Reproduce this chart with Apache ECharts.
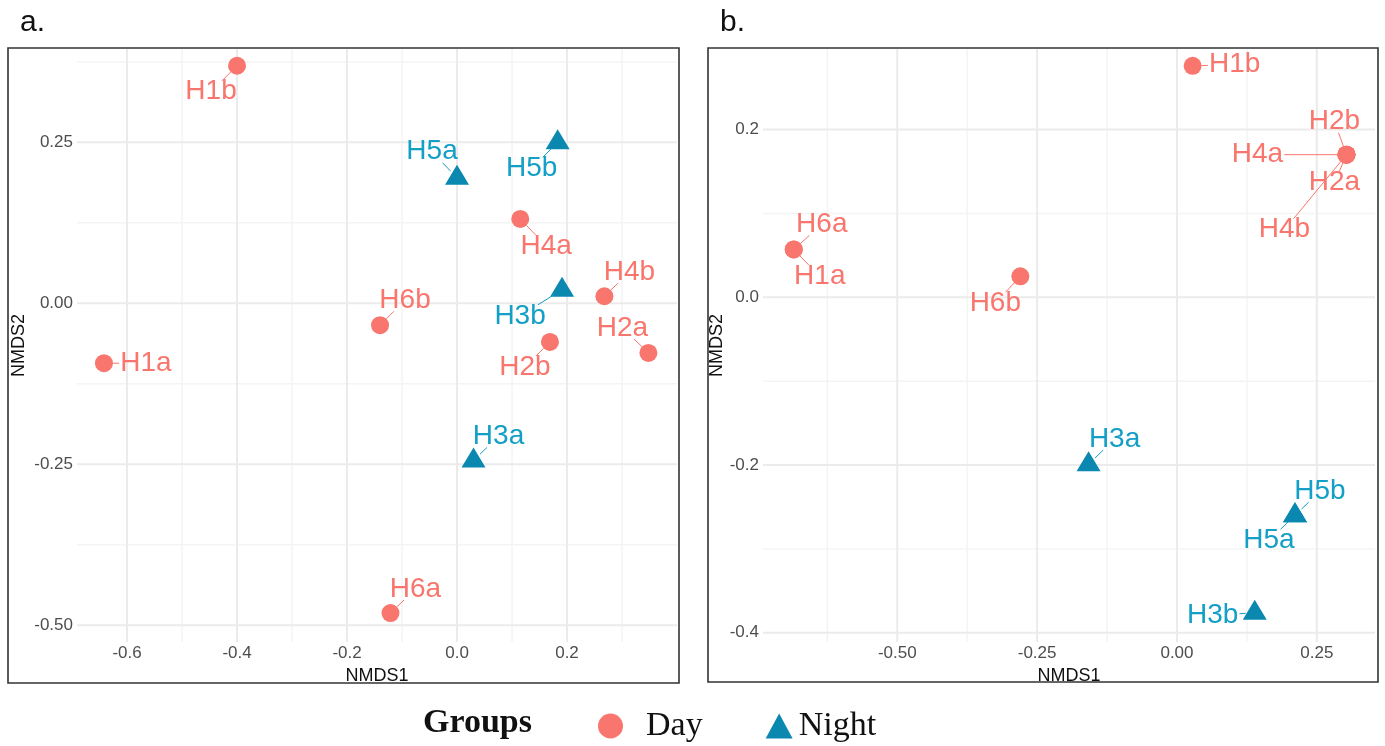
<!DOCTYPE html>
<html>
<head>
<meta charset="utf-8">
<script src="https://cdn.jsdelivr.net/npm/echarts@6/dist/echarts.min.js"></script>
<style>
    html, body { margin: 0; padding: 0; background: #fff; }
    #chart { width: 1385px; height: 746px; }
</style>
</head>
<body>
<div id="chart"></div>
<script>
// panel a. (NMDS scores)
var dayNamesA = ['H1a', 'H1b', 'H2a', 'H2b', 'H4a', 'H4b', 'H6a', 'H6b']
var dayXA = [-0.642, -0.400, 0.348, 0.169, 0.115, 0.268, -0.121, -0.140]
var dayYA = [-0.093, 0.369, -0.077, -0.060, 0.131, 0.011, -0.481, -0.034]
var nightNamesA = ['H3a', 'H3b', 'H5a', 'H5b']
var nightXA = [0.030, 0.191, 0.000, 0.183]
var nightYA = [-0.244, 0.021, 0.195, 0.250]

// panel b.
var dayNamesB = ['H1a', 'H1b', 'H2a', 'H2b', 'H4a', 'H4b', 'H6a', 'H6b']
var dayXB = [-0.685, 0.028, 0.303, 0.303, 0.303, 0.303, -0.685, -0.280]
var dayYB = [0.057, 0.276, 0.170, 0.170, 0.170, 0.170, 0.057, 0.025]
var nightNamesB = ['H3a', 'H3b', 'H5a', 'H5b']
var nightXB = [-0.158, 0.139, 0.211, 0.211]
var nightYB = [-0.199, -0.376, -0.260, -0.260]

// ticks
var xTicksA = [-0.6, -0.4, -0.2, 0.0, 0.2]
var xTickLabelsA = ['-0.6', '-0.4', '-0.2', '0.0', '0.2']
var yTicksA = [-0.5, -0.25, 0.0, 0.25]
var yTickLabelsA = ['-0.50', '-0.25', '0.00', '0.25']
var xMinorA = [-0.5, -0.3, -0.1, 0.1, 0.3]
var yMinorA = [-0.375, -0.125, 0.125, 0.375]

var xTicksB = [-0.5, -0.25, 0.0, 0.25]
var xTickLabelsB = ['-0.50', '-0.25', '0.00', '0.25']
var yTicksB = [-0.4, -0.2, 0.0, 0.2]
var yTickLabelsB = ['-0.4', '-0.2', '0.0', '0.2']
var xMinorB = [-0.625, -0.375, -0.125, 0.125]
var yMinorB = [-0.3, -0.1, 0.1]

// label placement (pixel offset from point, like ggrepel did it)
var offA = {
    H1b: [-26, 26], H5a: [-25, -26], H5b: [-26, 26], H4a: [26, 27], H4b: [25, -24], H3b: [-42, 26],
    H6b: [25, -25], H2a: [-26, -25], H2b: [-25, 25], H1a: [42, 0], H3a: [25, -24], H6a: [25, -24]
}
var offB = {
    H1b: [42, -1], H2b: [-12, -33], H4a: [-89, 0], H2a: [-12, 28], H4b: [-62, 75], H6a: [28, -25],
    H1a: [26, 27], H6b: [-25, 27], H3a: [26, -25], H5b: [25, -24], H5a: [-26, 25], H3b: [-42, 3]
}

var DAY = '#F8766D'
var NIGHT = '#0A88AF'
var NIGHT_TXT = '#139FC6'
var SANS = 'Liberation Sans'
var LABEL_FONT = 28

var ctx = document.createElement('canvas').getContext('2d')
ctx.font = LABEL_FONT + 'px "' + SANS + '"'

function zip(xs, ys) {
    return xs.map(function (x, i) { return [x, ys[i]] })
}

function tickFmt(ticks, labels) {
    return function (v) {
        for (var i = 0; i < ticks.length; i++) {
            if (Math.abs(ticks[i] - v) < 1e-6) return labels[i]
        }
        return ''
    }
}

function xAxisOf(gi, min, max, ticks, labels) {
    return {
        gridIndex: gi, type: 'value', min: min, max: max,
        axisLine: { show: false }, axisTick: { show: false }, splitLine: { show: false },
        axisLabel: { customValues: ticks, formatter: tickFmt(ticks, labels), color: '#4d4d4d', fontSize: 17, fontFamily: SANS, margin: 3 },
        name: 'NMDS1', nameLocation: 'middle', nameGap: 14,
        nameTextStyle: { color: '#111', fontSize: 18, fontFamily: SANS }
    }
}

function yAxisOf(gi, min, max, ticks, labels, gap) {
    return {
        gridIndex: gi, type: 'value', min: min, max: max,
        axisLine: { show: false }, axisTick: { show: false }, splitLine: { show: false },
        axisLabel: { customValues: ticks, formatter: tickFmt(ticks, labels), color: '#4d4d4d', fontSize: 17, fontFamily: SANS, margin: 4 },
        name: 'NMDS2', nameLocation: 'middle', nameGap: gap,
        nameTextStyle: { color: '#111', fontSize: 18, fontFamily: SANS }
    }
}

// background grid lines (major + minor), drawn under the points
function gridSeries(gi, xs, ys, xm, ym) {
    var d = []
    xm.forEach(function (v) { d.push([v, 0, 0]) })
    ym.forEach(function (v) { d.push([v, 1, 0]) })
    xs.forEach(function (v) { d.push([v, 0, 1]) })
    ys.forEach(function (v) { d.push([v, 1, 1]) })
    return {
        type: 'custom', xAxisIndex: gi, yAxisIndex: gi, data: d, z: 1, silent: true,
        renderItem: function (params, api) {
            var cs = params.coordSys
            var v = api.value(0), dir = api.value(1), major = api.value(2)
            var shape
            if (dir == 0) {
                var x = api.coord([v, 0])[0]
                shape = { x1: x, y1: cs.y, x2: x, y2: cs.y + cs.height }
            } else {
                var y = api.coord([0, v])[1]
                shape = { x1: cs.x, y1: y, x2: cs.x + cs.width, y2: y }
            }
            return {
                type: 'line', shape: shape,
                style: major ? { stroke: '#ebebeb', lineWidth: 2 } : { stroke: '#f4f4f4', lineWidth: 1.5 }
            }
        }
    }
}

function pointSeries(name, gi, pts, sym, color) {
    return {
        name: name, type: 'scatter', xAxisIndex: gi, yAxisIndex: gi, data: pts, z: 3,
        symbol: sym,
        symbolSize: sym == 'triangle' ? [24, 20] : 18,
        symbolOffset: sym == 'triangle' ? [0, -3] : [0, 0],
        itemStyle: { color: color, opacity: 1 },
        emphasis: { disabled: true }
    }
}

// text labels + short repel segments, placed through the axes
function labelSeries(gi, pts, names, offs, color) {
    return {
        type: 'custom', xAxisIndex: gi, yAxisIndex: gi, data: pts, z: 4, silent: true, clip: false,
        renderItem: function (params, api) {
            var nm = names[params.dataIndex]
            var p = api.coord([api.value(0), api.value(1)])
            var o = offs[nm]
            var lx = p[0] + o[0], ly = p[1] + o[1]
            var hw = ctx.measureText(nm).width / 2 + 1, hh = 11
            var children = [{
                type: 'text',
                style: { text: nm, x: lx, y: ly, align: 'center', verticalAlign: 'middle', fill: color, font: LABEL_FONT + 'px "' + SANS + '"' }
            }]
            var len = Math.sqrt(o[0] * o[0] + o[1] * o[1])
            var tb = Math.min(o[0] == 0 ? 1e9 : hw / Math.abs(o[0]), o[1] == 0 ? 1e9 : hh / Math.abs(o[1]))
            var endLen = len * (1 - tb)
            var r = 9
            if (endLen - r > 2) {
                var ux = o[0] / len, uy = o[1] / len
                children.push({
                    type: 'line',
                    shape: { x1: p[0] + ux * r, y1: p[1] + uy * r, x2: p[0] + ux * endLen, y2: p[1] + uy * endLen },
                    style: { stroke: color, lineWidth: 1 }
                })
            }
            return { type: 'group', children: children }
        }
    }
}

var chart = echarts.init(document.getElementById('chart'))

var option = {
    animation: false,
    backgroundColor: '#fff',
    grid: [
        { left: 77, top: 49, width: 600, height: 593 },
        { left: 763, top: 49, width: 612, height: 593 }
    ],
    xAxis: [
        xAxisOf(0, -0.691, 0.40, xTicksA, xTickLabelsA),
        xAxisOf(1, -0.740, 0.354, xTicksB, xTickLabelsB)
    ],
    yAxis: [
        yAxisOf(0, -0.526, 0.395, yTicksA, yTickLabelsA, 49),
        yAxisOf(1, -0.411, 0.296, yTicksB, yTickLabelsB, 36)
    ],
    legend: {
        data: [
            { name: 'Day', icon: 'circle', textStyle: { padding: [0, 0, 0, 17] } },
            { name: 'Night', icon: 'triangle', textStyle: { padding: [0, 0, 0, 1] } }
        ],
        left: 593, top: 704, itemWidth: 27, itemHeight: 25, itemGap: 63,
        textStyle: { fontFamily: 'Liberation Serif', fontSize: 34, color: '#111' },
        selectedMode: false
    },
    graphic: [
        { type: 'rect', shape: { x: 8, y: 48, width: 671, height: 635 }, style: { fill: 'none', stroke: '#333', lineWidth: 1.6 }, z: 10 },
        { type: 'rect', shape: { x: 708, y: 48, width: 670, height: 634 }, style: { fill: 'none', stroke: '#333', lineWidth: 1.6 }, z: 10 },
        { type: 'text', left: 20, top: 8, style: { text: 'a.', font: '30px "' + SANS + '"', fill: '#111' } },
        { type: 'text', left: 720, top: 8, style: { text: 'b.', font: '30px "' + SANS + '"', fill: '#111' } },
        { type: 'text', x: 423, y: 723, style: { text: 'Groups', verticalAlign: 'middle', font: 'bold 34px "Liberation Serif"', fill: '#111' } }
    ],
    series: [
        gridSeries(0, xTicksA, yTicksA, xMinorA, yMinorA),
        gridSeries(1, xTicksB, yTicksB, xMinorB, yMinorB),
        pointSeries('Day', 0, zip(dayXA, dayYA), 'circle', DAY),
        pointSeries('Night', 0, zip(nightXA, nightYA), 'triangle', NIGHT),
        pointSeries('Day', 1, zip(dayXB, dayYB), 'circle', DAY),
        pointSeries('Night', 1, zip(nightXB, nightYB), 'triangle', NIGHT),
        labelSeries(0, zip(dayXA, dayYA), dayNamesA, offA, DAY),
        labelSeries(0, zip(nightXA, nightYA), nightNamesA, offA, NIGHT_TXT),
        labelSeries(1, zip(dayXB, dayYB), dayNamesB, offB, DAY),
        labelSeries(1, zip(nightXB, nightYB), nightNamesB, offB, NIGHT_TXT)
    ]
}

chart.setOption(option)
</script>
</body>
</html>
